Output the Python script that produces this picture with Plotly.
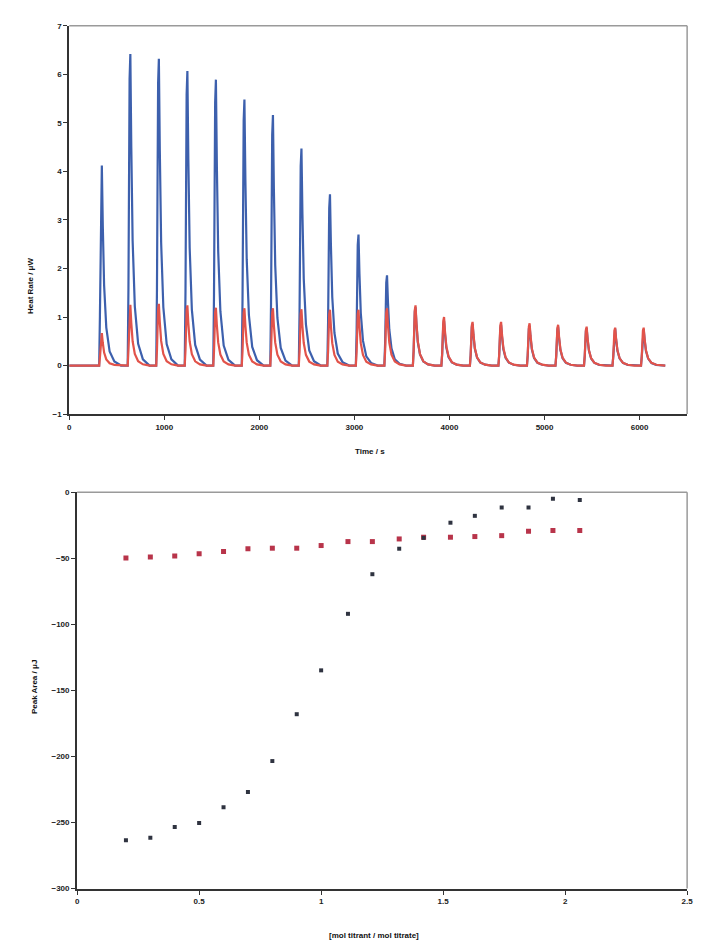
import numpy as np
import plotly.graph_objects as go

# ---- Thermogram data (heat rate vs time) ----
injection_times = [315, 615, 915, 1215, 1515, 1815, 2115, 2415, 2715, 3015,
                   3315, 3615, 3915, 4215, 4515, 4815, 5115, 5415, 5715, 6015]
blue_peaks = [4.12, 6.42, 6.32, 6.07, 5.89, 5.48, 5.16, 4.47, 3.53, 2.70,
              1.86, 1.20, 0.92, 0.86, 0.84, 0.82, 0.80, 0.77, 0.76, 0.75]
red_peaks = [0.67, 1.25, 1.27, 1.24, 1.19, 1.18, 1.18, 1.16, 1.15, 1.15,
             1.18, 1.24, 1.00, 0.90, 0.90, 0.87, 0.84, 0.80, 0.78, 0.78]
# shape of a single injection peak: time offset (s) and fraction of the peak height
peak_offsets = [0, 8, 20, 28, 38, 52, 75, 110, 160, 230]
peak_profile = [0.0, 0.25, 0.92, 1.0, 0.70, 0.40, 0.19, 0.07, 0.02, 0.0]
time_end = 6270

# ---- Integrated peak areas vs molar ratio ----
ratio = [0.20, 0.30, 0.40, 0.50, 0.60, 0.70, 0.80, 0.90, 1.00, 1.11,
         1.21, 1.32, 1.42, 1.53, 1.63, 1.74, 1.85, 1.95, 2.06]
area_black = [-263.5, -261.5, -253.5, -250.3, -238.5, -227.0, -203.5, -168.0, -134.8, -92.0,
              -62.0, -42.7, -34.5, -23.0, -17.8, -11.5, -11.5, -4.8, -5.8]
area_red = [-49.8, -49.0, -48.3, -46.5, -44.8, -42.8, -42.3, -42.3, -40.3, -37.3,
            -37.3, -35.3, -34.0, -34.0, -33.5, -32.8, -29.5, -29.0, -29.0]

BLUE = "#3d60ad"
RED = "#e2534a"
AXIS = "#333333"
FRAME = "#9a9a9a"
FONT = "Liberation Sans"


def thermogram(heights):
    t = [0.0]
    q = [0.0]
    for t0, h in zip(injection_times, heights):
        for dt, f in zip(peak_offsets, peak_profile):
            t.append(t0 + dt)
            q.append(h * f)
    t.append(time_end)
    q.append(0.0)
    return np.array(t), np.array(q)


tb, qb = thermogram(blue_peaks)
tr, qr = thermogram(red_peaks)

fig = go.Figure()
fig.add_trace(go.Scatter(x=tb, y=qb, mode="lines", line=dict(color=BLUE, width=2.2),
                         xaxis="x", yaxis="y", showlegend=False))
fig.add_trace(go.Scatter(x=tr, y=qr, mode="lines", line=dict(color=RED, width=2.2),
                         xaxis="x", yaxis="y", showlegend=False))

fig.add_trace(go.Scatter(x=ratio, y=area_red, mode="markers",
                         marker=dict(symbol="square", size=5, color="#b8344a"),
                         xaxis="x2", yaxis="y2", showlegend=False))
fig.add_trace(go.Scatter(x=ratio, y=area_black, mode="markers",
                         marker=dict(symbol="square", size=4, color="#2f3340"),
                         xaxis="x2", yaxis="y2", showlegend=False))

W, H = 704, 949


def px_x(p):
    return p / W


def px_y(p):
    return 1 - p / H


tick_font = dict(family=FONT, size=8, color="#222222", weight="bold")
common = dict(showgrid=False, zeroline=False, ticks="outside", ticklen=4,
              tickwidth=1, tickcolor=AXIS, linecolor=AXIS, linewidth=2,
              showline=True, tickfont=tick_font)

fig.update_layout(
    width=W, height=H,
    margin=dict(l=0, r=0, t=0, b=0),
    paper_bgcolor="white", plot_bgcolor="white",
    font=dict(family=FONT, color="#222222"),
    xaxis=dict(domain=[px_x(68), px_x(693)], range=[0, 6500], dtick=1000,
               anchor="y", **common),
    yaxis=dict(domain=[px_y(414), px_y(22)], range=[-1, 7], dtick=1,
               anchor="x", **common),
    xaxis2=dict(domain=[px_x(76), px_x(693)], range=[0, 2.5], dtick=0.5,
                anchor="y2", tickformat=".1~f", **common),
    yaxis2=dict(domain=[px_y(893), px_y(493)], range=[-300, 0], dtick=50,
                anchor="x2", **common),
)

# grey frame along the top and right edges of each plot area
for ax in ("x", "x2"):
    yax = "y" if ax == "x" else "y2"
    fig.add_shape(type="line", xref=f"{ax} domain", yref=f"{yax} domain",
                  x0=0, x1=1, y0=1, y1=1, line=dict(color=FRAME, width=1.5))
    fig.add_shape(type="line", xref=f"{ax} domain", yref=f"{yax} domain",
                  x0=1, x1=1, y0=0, y1=1, line=dict(color=FRAME, width=1.5))

title_font = dict(family=FONT, size=8, color="#111111")
annotations = [
    dict(text="<b>Time / s</b>", x=px_x(372), y=px_y(452), textangle=0),
    dict(text="<b>Heat Rate / μW</b>", x=px_x(29), y=px_y(285), textangle=-90),
    dict(text="<b>[mol titrant / mol titrate]</b>", x=px_x(376), y=px_y(940), textangle=0),
    dict(text="<b>Peak Area / μJ</b>", x=px_x(33), y=px_y(690), textangle=-90),
]
for a in annotations:
    fig.add_annotation(xref="paper", yref="paper", showarrow=False,
                       xanchor="center", yanchor="middle", font=title_font, **a)

fig.write_html("out.html")
